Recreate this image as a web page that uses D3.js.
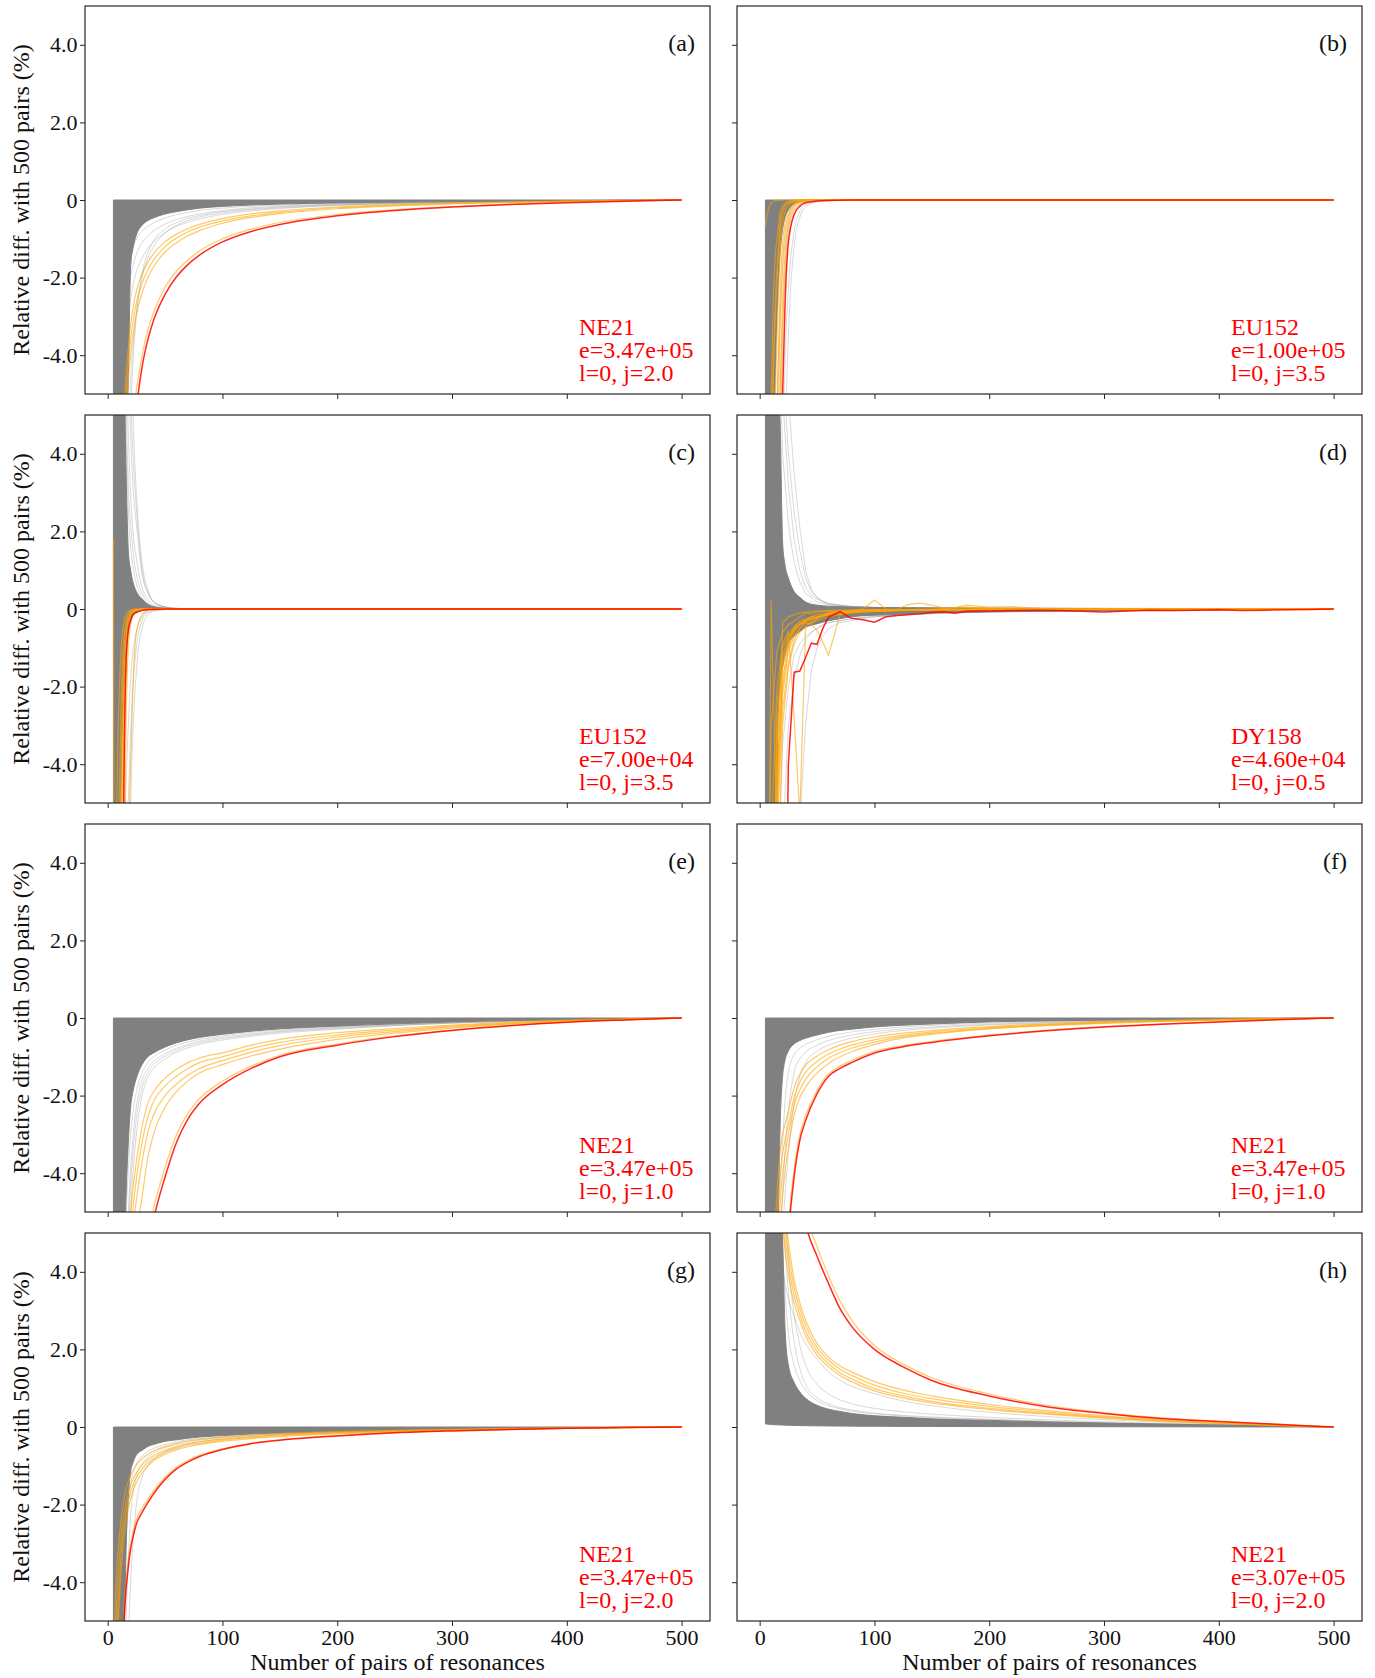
<!DOCTYPE html>
<html><head><meta charset="utf-8">
<script src="https://cdn.jsdelivr.net/npm/d3@7"></script>
<style>body{margin:0;background:#fff;}svg{display:block;}</style>
</head><body><svg id="chart" width="1375" height="1678"></svg>
<script>
// ---------------- DATA ----------------
// common x grid (number of pairs of resonances) for the smooth panels
const X = [5,6,8,10,12, 14,16,18,20,22, 25,30,35,40,50, 60,70,80,100,125, 150,200,250,300,350, 400,450,500];
const xTicks = [0,100,200,300,400,500];
const yTicks = [-4,-2,0,2,4];
const yTickLabels = ["-4.0","-2.0","0","2.0","4.0"];
const xAxisTitle = "Number of pairs of resonances";
const yAxisTitle = "Relative diff. with 500 pairs (%)";
const panelLetters = ["(a)","(b)","(c)","(d)","(e)","(f)","(g)","(h)"];

// ---- panel (a)
const aNote = ["NE21","e=3.47e+05","l=0, j=2.0"];
const aGrayHi = [0,0,0,0,0, 0,0,0,0,0, 0,0,0,0,0, 0,0,0,0,0, 0,0,0,0,0, 0,0,0];
const aGrayLo = [-40,-32,-22,-16,-11, -8.5,-6.5,-4.6,-1.7,-1.25, -0.9,-0.65,-0.53,-0.46,-0.36, -0.3,-0.25,-0.21,-0.165,-0.13, -0.105,-0.075,-0.055,-0.04,-0.028, -0.017,-0.008,0];
const aLight = [
 [-25,-18,-11,-8,-5.8, -4.5,-3.6,-3.0,-2.55,-2.2, -1.85,-1.5,-1.25,-1.08,-0.84, -0.68,-0.57,-0.49,-0.37,-0.28, -0.22,-0.14,-0.094,-0.063,-0.04, -0.024,-0.01,0],
 [-30,-20,-12,-8.5,-6, -4.3,-3.2,-2.5,-2.0,-1.7, -1.4,-1.1,-0.92,-0.8,-0.62, -0.5,-0.42,-0.36,-0.27,-0.2, -0.16,-0.105,-0.07,-0.047,-0.03, -0.018,-0.008,0],
 [-40,-28,-16,-10,-6.5, -4.2,-2.8,-2.0,-1.5,-1.25, -1.0,-0.8,-0.68,-0.59,-0.46, -0.38,-0.32,-0.27,-0.21,-0.16, -0.13,-0.088,-0.06,-0.04,-0.026, -0.016,-0.007,0],
 [-50,-40,-28,-20,-14, -10,-7.5,-5.8,-4.6,-3.8, -2.9,-2.0,-1.5,-1.2,-0.85, -0.65,-0.52,-0.44,-0.33,-0.25, -0.2,-0.13,-0.09,-0.06,-0.038, -0.022,-0.01,0],
 [-60,-45,-30,-22,-16, -12,-9,-7,-5.5,-4.2, -3.0,-1.9,-1.35,-1.05,-0.75, -0.58,-0.47,-0.4,-0.3,-0.23, -0.18,-0.12,-0.08,-0.054,-0.035, -0.02,-0.009,0]
];
const aOrange = [
 [-30,-26,-20,-16,-12.5, -10,-8.3,-7.0,-6.2,-5.6, -4.9,-4.0,-3.35,-2.9,-2.25, -1.83,-1.54,-1.31,-1.0,-0.75, -0.58,-0.375,-0.25,-0.167,-0.107, -0.063,-0.028,0],
 [-30,-22,-14,-10,-7.2, -5.6,-4.5,-3.8,-3.2,-2.8, -2.35,-1.9,-1.6,-1.38,-1.08, -0.88,-0.74,-0.63,-0.48,-0.36, -0.28,-0.18,-0.12,-0.08,-0.051, -0.03,-0.013,0],
 [-32,-24,-15,-11,-8, -6.2,-5.0,-4.2,-3.6,-3.15, -2.65,-2.15,-1.8,-1.55,-1.2, -0.98,-0.82,-0.7,-0.54,-0.41, -0.32,-0.2,-0.135,-0.09,-0.058, -0.034,-0.015,0],
 [-34,-26,-16,-12,-8.8, -6.8,-5.5,-4.6,-4.0,-3.5, -2.95,-2.4,-2.0,-1.72,-1.34, -1.1,-0.92,-0.79,-0.6,-0.45, -0.35,-0.225,-0.15,-0.1,-0.064, -0.037,-0.016,0]
];
const aRed = [-35,-30,-22,-17,-13.5, -11,-9.2,-8.0,-7.2,-6.4, -5.4,-4.3,-3.6,-3.1,-2.43, -1.98,-1.66,-1.42,-1.08,-0.81, -0.63,-0.405,-0.27,-0.18,-0.116, -0.068,-0.03,0];

// ---- panel (b)
const bNote = ["EU152","e=1.00e+05","l=0, j=3.5"];
const bGrayHi = [0,0,0,0,0, 0,0,0,0,0, 0,0,0,0,0, 0,0,0,0,0, 0,0,0,0,0, 0,0,0];
const bGrayLo = [-40,-34,-24,-14,-7, -4,-2.3,-1.3,-0.75,-0.45, -0.25,-0.1,-0.045,-0.02,-0.008, -0.004,-0.002,-0.001,0,0, 0,0,0,0,0, 0,0,0];
const bLight = [
 [-60,-55,-45,-36,-28, -21,-15,-10,-6.5,-4.2, -2.3,-0.8,-0.3,-0.12,-0.04, -0.015,-0.006,-0.003,-0.001,0, 0,0,0,0,0, 0,0,0],
 [-50,-45,-35,-26,-18, -12,-8,-5,-3.2,-2.0, -1.0,-0.35,-0.13,-0.05,-0.015, -0.005,-0.002,0,0,0, 0,0,0,0,0, 0,0,0],
 [-40,-35,-26,-18,-11, -7,-4.5,-3.0,-1.8,-1.1, -0.5,-0.15,-0.05,-0.02,-0.005, 0,0,0,0,0, 0,0,0,0,0, 0,0,0],
 [-70,-65,-55,-45,-36, -28,-21,-15,-10,-6.5, -3.5,-1.2,-0.45,-0.18,-0.05, -0.02,-0.008,-0.003,0,0, 0,0,0,0,0, 0,0,0]
];
const bOrange = [
 [-0.69,-0.45,-0.2,-0.08,-0.03, -0.015,-0.008,-0.004,-0.002,0, 0,0,0,0,0, 0,0,0,0,0, 0,0,0,0,0, 0,0,0],
 [-30,-22,-9,-5,-2.4, -1.3,-0.8,-0.3,-0.15,-0.08, -0.04,-0.01,0,0,0, 0,0,0,0,0, 0,0,0,0,0, 0,0,0],
 [-35,-28,-15,-8,-4.5, -2.8,-1.6,-0.7,-0.35,-0.18, -0.09,-0.03,-0.01,0,0, 0,0,0,0,0, 0,0,0,0,0, 0,0,0],
 [-40,-32,-20,-12,-7, -4.6,-2.8,-1.2,-0.6,-0.3, -0.15,-0.05,-0.02,-0.005,0, 0,0,0,0,0, 0,0,0,0,0, 0,0,0],
 [-45,-38,-25,-16,-10, -6.5,-4.2,-2.2,-1.1,-0.6, -0.3,-0.09,-0.03,-0.01,0, 0,0,0,0,0, 0,0,0,0,0, 0,0,0],
 [-50,-42,-30,-20,-13, -8.5,-5.5,-3,-1.6,-0.85, -0.4,-0.12,-0.04,-0.015,-0.003, 0,0,0,0,0, 0,0,0,0,0, 0,0,0],
 [-50,-45,-32,-24,-16, -11,-7.5,-4.5,-2.6,-1.4, -0.6,-0.18,-0.06,-0.02,-0.005, 0,0,0,0,0, 0,0,0,0,0, 0,0,0],
 [-40,-20,-10,-6.5,-4, -2.3,-1.4,-0.5,-0.25,-0.12, -0.06,-0.02,0,0,0, 0,0,0,0,0, 0,0,0,0,0, 0,0,0],
 [-55,-50,-40,-30,-22, -15,-10,-6,-3.5,-1.9, -0.75,-0.25,-0.1,-0.04,-0.012, -0.005,0,0,0,0, 0,0,0,0,0, 0,0,0]
];
const bRed = [-60,-55,-45,-35,-26, -19,-13,-8.5,-5.0,-2.8, -1.1,-0.38,-0.16,-0.07,-0.025, -0.01,-0.005,-0.002,0,0, 0,0,0,0,0, 0,0,0];

// ---- panel (c)
const cNote = ["EU152","e=7.00e+04","l=0, j=3.5"];
const cGrayHi = [40,32,22,15,10, 6.8,3.6,1.5,1.0,0.7, 0.45,0.25,0.12,0.06,0.02, 0.008,0.003,0,0,0, 0,0,0,0,0, 0,0,0];
const cGrayLo = [-40,-30,-15,-8,-4, -2.2,-1.0,-0.5,-0.28,-0.17, -0.09,-0.035,-0.015,-0.008,-0.003, 0,0,0,0,0, 0,0,0,0,0, 0,0,0];
const cLight = [
 [45,40,32,25,18, 14,10,6.5,4.5,3.2, 2.2,0.9,0.4,0.18,0.05, 0.015,0.005,0,0,0, 0,0,0,0,0, 0,0,0],
 [40,35,26,20,14, 10.5,7,4.5,3.0,2.0, 1.3,0.55,0.25,0.1,0.03, 0.01,0,0,0,0, 0,0,0,0,0, 0,0,0],
 [35,30,22,18,12, 9,5.5,3.2,2.2,1.5, 0.9,0.4,0.18,0.07,0.02, 0,0,0,0,0, 0,0,0,0,0, 0,0,0],
 [50,45,38,30,24, 19,14,10,7,5, 3.0,1.2,0.5,0.2,0.06, 0.02,0.005,0,0,0, 0,0,0,0,0, 0,0,0],
 [30,26,20,15,10, 7.5,4.5,2.5,1.6,1.1, 0.65,0.3,0.13,0.05,0.015, 0,0,0,0,0, 0,0,0,0,0, 0,0,0],
 [48,44,36,28,21, 16,12,8,5.5,4, 2.6,1.0,0.45,0.18,0.05, 0.015,0,0,0,0, 0,0,0,0,0, 0,0,0],
 [-30,-25,-20,-15,-10, -7,-4.5,-3,-1.8,-1.1, -0.6,-0.2,-0.07,-0.03,-0.01, 0,0,0,0,0, 0,0,0,0,0, 0,0,0],
 [-40,-35,-28,-20,-14, -10,-7,-5,-3.2,-2.0, -1.0,-0.3,-0.1,-0.04,-0.01, 0,0,0,0,0, 0,0,0,0,0, 0,0,0],
 [-50,-45,-38,-30,-22, -16,-11,-7.5,-5.0,-3.2, -1.6,-0.5,-0.16,-0.06,-0.015, 0,0,0,0,0, 0,0,0,0,0, 0,0,0]
];
const cOrange = [
 [1.82,-15,-10,-5,-2, -0.8,-0.3,-0.12,-0.06,-0.03, -0.01,0,0,0,0, 0,0,0,0,0, 0,0,0,0,0, 0,0,0],
 [-40,-30,-15,-8,-3.5, -1.2,-0.45,-0.18,-0.08,-0.04, -0.015,-0.005,0,0,0, 0,0,0,0,0, 0,0,0,0,0, 0,0,0],
 [-50,-40,-25,-14,-6.5, -2.2,-0.8,-0.3,-0.12,-0.06, -0.02,-0.006,0,0,0, 0,0,0,0,0, 0,0,0,0,0, 0,0,0],
 [-60,-50,-35,-22,-12, -5,-1.7,-0.6,-0.25,-0.1, -0.04,-0.01,0,0,0, 0,0,0,0,0, 0,0,0,0,0, 0,0,0],
 [-60,-58,-50,-40,-28, -18,-11,-6.5,-4,-2, -0.6,-0.15,-0.04,-0.01,0, 0,0,0,0,0, 0,0,0,0,0, 0,0,0],
 [-45,-35,-20,-11,-5, -1.8,-0.7,-0.25,-0.1,-0.05, -0.02,0,0,0,0, 0,0,0,0,0, 0,0,0,0,0, 0,0,0],
 [-55,-45,-30,-18,-9, -3.5,-1.2,-0.45,-0.18,-0.08, -0.03,-0.01,0,0,0, 0,0,0,0,0, 0,0,0,0,0, 0,0,0],
 [-20,-12,-5,-2.2,-0.9, -0.35,-0.15,-0.06,-0.03,-0.01, 0,0,0,0,0, 0,0,0,0,0, 0,0,0,0,0, 0,0,0],
 [-58,-52,-42,-30,-18, -8,-3,-1.0,-0.4,-0.18, -0.07,-0.02,0,0,0, 0,0,0,0,0, 0,0,0,0,0, 0,0,0]
];
const cRed = [-80,-75,-55,-32,-14, -5.0,-1.4,-0.55,-0.3,-0.15, -0.09,-0.035,-0.015,-0.007,-0.003, 0,0,0,0,0, 0,0,0,0,0, 0,0,0];

// ---- panel (d): jagged curves, given as [pairs, value] points
const dNote = ["DY158","e=4.60e+04","l=0, j=0.5"];
const dEnvX = [5,10,14,15,16, 18,20,22,25,30, 35,40,45,50,60, 70,80,100,110,130, 150,200,250,300,350, 400,450,500];
const dGrayHi = [40,20,11,8,6.5, 4.6,1.7,1.15,0.8,0.45, 0.3,0.18,0.12,0.1,0.07, 0.06,0.05,0.04,0.036,0.03, 0.027,0.018,0.015,0.012,0.009, 0.007,0.004,0];
const dGrayLo = [-40,-20,-7,-5,-2.8, -1.9,-1.5,-1.2,-0.9,-0.7, -0.58,-0.47,-0.42,-0.38,-0.3, -0.25,-0.2,-0.16,-0.15,-0.12, -0.1,-0.075,-0.058,-0.045,-0.034, -0.024,-0.012,0];
const dLight = [
 [[5,40],[10,25],[15,14],[20,8.5],[25,5.5],[30,3.5],[35,2.1],[40,1.0],[45,0.5],[50,0.3],[55,0.2],[60,0.15],[70,0.1],[80,0.07],[100,0.04],[150,0.02],[200,0.01],[500,0]],
 [[5,35],[10,20],[15,10],[20,5.5],[25,3.2],[30,1.8],[35,1.0],[40,0.55],[45,0.35],[50,0.25],[60,0.12],[80,0.06],[100,0.04],[150,0.02],[500,0]],
 [[5,30],[10,18],[15,9],[20,4],[25,2.2],[30,1.2],[35,0.7],[40,0.4],[50,0.18],[60,0.1],[80,0.05],[100,0.03],[500,0]],
 [[5,38],[10,22],[15,12],[20,6.5],[25,4],[30,2.5],[35,1.5],[40,0.8],[45,0.45],[50,0.28],[60,0.13],[80,0.06],[100,0.04],[500,0]],
 [[5,-40],[10,-25],[15,-12],[20,-6],[25,-3],[30,-1.8],[35,-1.2],[40,-0.8],[45,-0.6],[50,-0.5],[55,-0.4],[60,-0.35],[70,-0.3],[80,-0.25],[100,-0.18],[150,-0.1],[200,-0.06],[300,-0.03],[500,0]],
 [[5,-50],[10,-35],[20,-15],[30,-7],[35,-5.5],[40,-3],[45,-1.6],[50,-1.0],[55,-0.7],[60,-0.5],[70,-0.35],[80,-0.3],[100,-0.2],[150,-0.12],[200,-0.07],[300,-0.03],[500,0]],
 [[5,30],[10,10],[15,3],[20,1],[25,0.4],[30,0.2],[40,0.1],[45,0.2],[50,0.05],[60,0.02],[100,0.01],[500,0]],
 [[5,-35],[10,-20],[15,-8],[20,-3.5],[25,-2],[30,-1.2],[35,-0.9],[40,-0.7],[50,-0.5],[60,-0.35],[80,-0.25],[100,-0.2],[150,-0.12],[200,-0.08],[300,-0.04],[500,0]]
];
const dOrange = [
 [[5,-20],[10,0.25],[15,-6],[20,-1.3],[25,-0.8],[30,-0.55],[35,-0.4],[40,-0.3],[50,-0.2],[60,-0.15],[70,-0.12],[80,-0.1],[100,-0.06],[120,-0.04],[150,-0.03],[200,-0.02],[300,-0.01],[500,0]],
 [[5,-30],[10,-12],[15,-2.5],[20,-1.0],[25,-0.65],[30,-0.45],[35,-0.35],[40,-0.28],[45,-0.2],[50,-0.22],[60,-0.12],[70,-0.08],[80,-0.07],[90,-0.05],[100,-0.06],[120,-0.03],[150,-0.02],[200,-0.01],[500,0]],
 [[5,-35],[10,-15],[15,-4],[20,-1.8],[25,-0.9],[30,-0.5],[35,-0.4],[40,-0.3],[45,-0.2],[50,-0.25],[55,-0.15],[60,-0.1],[70,-0.05],[80,-0.08],[90,-0.05],[100,-0.03],[110,-0.04],[130,-0.02],[160,-0.01],[500,0]],
 [[5,-40],[10,-20],[15,-6],[20,-2.6],[25,-1.4],[30,-0.8],[35,-0.5],[40,-0.35],[45,-0.38],[50,-0.25],[55,-0.2],[60,-0.12],[70,-0.1],[80,-0.06],[90,-0.04],[100,-0.03],[120,-0.03],[150,-0.015],[200,-0.01],[500,0]],
 [[5,-25],[10,-10],[15,-3],[20,-1.2],[25,-0.7],[30,-0.5],[35,-0.4],[40,-0.35],[45,-0.4],[50,-0.55],[55,-0.85],[60,-1.19],[70,-0.15],[80,-0.06],[90,-0.03],[100,-0.02],[150,-0.01],[500,0]],
 [[5,-28],[10,-11],[15,-3.5],[20,-1.5],[25,-0.8],[30,-0.5],[35,-0.3],[40,-0.25],[50,-0.15],[60,-0.1],[70,-0.08],[80,-0.04],[90,0.0],[100,0.23],[110,0.0],[120,-0.02],[140,-0.02],[160,-0.01],[200,-0.01],[500,0]],
 [[5,-32],[10,-14],[15,-4.5],[20,-2],[25,-1],[30,-0.6],[35,-0.4],[40,-0.3],[50,-0.2],[60,-0.12],[70,-0.08],[80,-0.05],[100,-0.03],[110,-0.02],[120,0.0],[130,0.12],[140,0.15],[150,0.1],[160,0.03],[180,0.05],[200,0.01],[250,0.0],[500,0]],
 [[5,-20],[10,-6],[15,-2],[20,-0.9],[25,-0.57],[30,-2.8],[35,-5.3],[40,-0.45],[45,-0.3],[50,-0.2],[60,-0.12],[70,-0.08],[80,-0.06],[100,-0.04],[150,-0.02],[200,-0.01],[500,0]],
 [[5,-50],[10,-25],[15,-8],[20,-3],[25,-1.5],[30,-0.9],[35,-0.6],[40,-0.45],[45,-0.35],[50,-0.3],[55,-0.25],[60,-0.2],[70,-0.14],[80,-0.1],[90,-0.08],[100,-0.06],[120,-0.04],[150,-0.03],[200,-0.02],[300,-0.01],[500,0]],
 [[5,-45],[10,-30],[15,-5],[20,-0.35],[25,-0.2],[30,-0.15],[35,-0.1],[40,-0.08],[50,-0.05],[70,-0.03],[100,-0.02],[200,-0.01],[500,0]],
 [[5,-15],[10,-3],[15,-1.1],[20,-0.6],[25,-0.4],[30,-0.3],[35,-0.2],[40,-0.1],[45,-0.12],[50,-0.08],[60,-0.05],[70,-0.06],[80,-0.03],[100,-0.02],[150,-0.01],[500,0]],
 [[5,-38],[10,-18],[15,-5],[20,-2.2],[25,-1.1],[30,-0.7],[35,-0.5],[40,-0.32],[50,-0.22],[60,-0.15],[70,-0.1],[80,-0.06],[100,-0.03],[150,-0.01],[170,0.03],[180,0.1],[200,0.05],[220,0.06],[240,0.02],[260,0.0],[500,0]]
];
const dRed = [[5,-60],[10,-40],[15,-25],[20,-15],[25,-4.0],[30,-1.63],[35,-1.6],[40,-1.25],[45,-0.88],[50,-0.91],[55,-0.5],[60,-0.21],[70,-0.07],[80,-0.24],[90,-0.28],[100,-0.34],[110,-0.2],[120,-0.17],[130,-0.14],[140,-0.12],[150,-0.09],[160,-0.07],[170,-0.11],[180,-0.06],[200,-0.05],[220,-0.04],[240,-0.035],[260,-0.04],[280,-0.06],[300,-0.08],[320,-0.05],[340,-0.03],[360,-0.04],[380,-0.03],[400,-0.02],[420,-0.04],[440,-0.03],[460,-0.02],[480,-0.01],[500,0]];

// ---- panel (e)
const eNote = ["NE21","e=3.47e+05","l=0, j=1.0"];
const eGrayHi = [0,0,0,0,0, 0,0,0,0,0, 0,0,0,0,0, 0,0,0,0,0, 0,0,0,0,0, 0,0,0];
const eGrayLo = [-40,-30,-18,-12,-9, -6.5,-4.6,-3.2,-2.3,-1.9, -1.55,-1.2,-1.0,-0.9,-0.75, -0.64,-0.56,-0.5,-0.42,-0.34, -0.28,-0.21,-0.15,-0.1,-0.065, -0.04,-0.018,0];
const eLight = [
 [-40,-32,-22,-15,-11, -8.5,-6.5,-5,-3.9,-3.1, -2.3,-1.6,-1.3,-1.12,-0.92, -0.78,-0.68,-0.6,-0.5,-0.41, -0.34,-0.25,-0.18,-0.12,-0.078, -0.046,-0.02,0],
 [-45,-36,-26,-18,-13, -10,-8,-6.3,-5,-4, -3,-2.0,-1.55,-1.3,-1.05, -0.88,-0.77,-0.68,-0.57,-0.47, -0.39,-0.29,-0.2,-0.135,-0.088, -0.052,-0.023,0],
 [-42,-34,-24,-16,-12, -9,-7,-5.5,-4.3,-3.5, -2.6,-1.8,-1.42,-1.2,-0.98, -0.83,-0.72,-0.64,-0.53,-0.44, -0.36,-0.27,-0.19,-0.128,-0.083, -0.049,-0.021,0],
 [-40,-30,-20,-13,-9.5, -7,-5.2,-3.9,-3.0,-2.45, -1.9,-1.4,-1.15,-1.0,-0.83, -0.7,-0.62,-0.55,-0.46,-0.37, -0.31,-0.23,-0.165,-0.11,-0.07, -0.043,-0.019,0]
];
const eOrange = [
 [-55,-50,-37,-28,-21, -16,-13,-11,-9.8,-8.8, -7.7,-6.5,-5.6,-4.9,-3.85, -3.0,-2.45,-2.08,-1.63,-1.24, -0.96,-0.67,-0.46,-0.31,-0.19, -0.105,-0.048,0],
 [-30,-24,-15,-11,-9, -7.5,-6.4,-5.6,-5.0,-4.4, -3.7,-2.8,-2.2,-1.9,-1.55, -1.32,-1.15,-1.03,-0.9,-0.7, -0.55,-0.38,-0.27,-0.18,-0.11, -0.06,-0.027,0],
 [-33,-27,-17,-12.5,-10, -8.3,-7.1,-6.2,-5.5,-4.9, -4.15,-3.2,-2.55,-2.15,-1.75, -1.5,-1.3,-1.15,-1.0,-0.79, -0.63,-0.44,-0.31,-0.205,-0.128, -0.07,-0.031,0],
 [-36,-30,-20,-14,-11, -9.2,-7.9,-6.9,-6.1,-5.4, -4.7,-3.7,-2.95,-2.5,-2.0, -1.7,-1.47,-1.3,-1.1,-0.88, -0.71,-0.49,-0.35,-0.23,-0.145, -0.08,-0.035,0],
 [-40,-33,-25,-18,-14, -11,-9,-7.6,-6.8,-6.1, -5.5,-4.6,-3.6,-3.0,-2.3, -1.9,-1.62,-1.42,-1.2,-0.98, -0.8,-0.55,-0.39,-0.26,-0.16, -0.09,-0.04,0]
];
const eRed = [-60,-55,-40,-30,-22, -17,-14,-12,-10.5,-9.5, -8.3,-7,-6.0,-5.2,-4.1, -3.2,-2.6,-2.2,-1.72,-1.3, -1.0,-0.7,-0.48,-0.32,-0.2, -0.11,-0.05,0];

// ---- panel (f)
const fNote = ["NE21","e=3.47e+05","l=0, j=1.0"];
const fGrayHi = [0,0,0,0,0, 0,0,0,0,0, 0,0,0,0,0, 0,0,0,0,0, 0,0,0,0,0, 0,0,0];
const fGrayLo = [-40,-30,-18,-12,-8.5, -6.5,-5.2,-2.6,-1.5,-1.1, -0.85,-0.67,-0.58,-0.52,-0.44, -0.37,-0.32,-0.29,-0.23,-0.185, -0.155,-0.1,-0.075,-0.055,-0.038, -0.024,-0.011,0];
const fLight = [
 [-40,-30,-18,-12,-8.5, -6.5,-5.2,-4.2,-3.2,-2.2, -1.4,-0.95,-0.78,-0.68,-0.56, -0.47,-0.41,-0.36,-0.29,-0.23, -0.19,-0.13,-0.095,-0.068,-0.046, -0.028,-0.013,0],
 [-45,-35,-22,-15,-11, -8.5,-6.8,-5.5,-4.5,-3.5, -2.4,-1.4,-1.05,-0.88,-0.7, -0.58,-0.5,-0.44,-0.35,-0.28, -0.23,-0.16,-0.115,-0.08,-0.054, -0.033,-0.015,0],
 [-50,-40,-26,-18,-13, -10,-8,-6.6,-5.5,-4.6, -3.5,-2.2,-1.5,-1.15,-0.85, -0.7,-0.6,-0.52,-0.41,-0.32, -0.26,-0.18,-0.13,-0.09,-0.06, -0.036,-0.016,0]
];
const fOrange = [
 [-55,-46,-33,-26,-19.5, -15,-11.7,-9.4,-7.8,-6.6, -5.3,-3.9,-3.0,-2.52,-1.86, -1.44,-1.24,-1.1,-0.86,-0.71, -0.6,-0.44,-0.315,-0.22,-0.152, -0.095,-0.043,0],
 [-35,-26,-15,-9.5,-6.8, -5.1,-4.1,-3.4,-3.0,-2.75, -2.4,-1.8,-1.45,-1.22,-0.98, -0.82,-0.7,-0.61,-0.49,-0.39, -0.32,-0.22,-0.15,-0.1,-0.065, -0.038,-0.017,0],
 [-38,-29,-17,-11,-7.8, -5.9,-4.8,-4.0,-3.5,-3.15, -2.75,-2.05,-1.65,-1.4,-1.12, -0.93,-0.8,-0.7,-0.56,-0.44, -0.36,-0.245,-0.17,-0.115,-0.075, -0.044,-0.02,0],
 [-42,-32,-19,-12.5,-8.9, -6.8,-5.6,-4.7,-4.0,-3.55, -3.0,-2.25,-1.85,-1.58,-1.26, -1.04,-0.89,-0.78,-0.62,-0.48, -0.39,-0.265,-0.185,-0.125,-0.082, -0.048,-0.022,0],
 [-45,-35,-21,-14,-10, -7.8,-6.4,-5.4,-4.6,-4.0, -3.35,-2.5,-2.05,-1.78,-1.42, -1.17,-1.0,-0.87,-0.68,-0.51, -0.42,-0.28,-0.2,-0.14,-0.09, -0.053,-0.024,0]
];
const fRed = [-60,-50,-36,-28,-21, -16,-12.5,-10,-8.3,-7, -5.6,-4.1,-3.15,-2.65,-1.95, -1.5,-1.3,-1.15,-0.9,-0.74, -0.63,-0.46,-0.33,-0.23,-0.16, -0.1,-0.045,0];

// ---- panel (g)
const gNote = ["NE21","e=3.47e+05","l=0, j=2.0"];
const gGrayHi = [0,0,0,0,0, 0,0,0,0,0, 0,0,0,0,0, 0,0,0,0,0, 0,0,0,0,0, 0,0,0];
const gGrayLo = [-40,-30,-18,-12,-9, -6.2,-3.2,-1.8,-1.15,-0.92, -0.72,-0.6,-0.5,-0.45,-0.37, -0.33,-0.29,-0.26,-0.22,-0.18, -0.155,-0.115,-0.085,-0.062,-0.043, -0.027,-0.012,0];
const gLight = [
 [-40,-30,-18,-12,-8, -5,-3,-2,-1.5,-1.2, -0.95,-0.75,-0.63,-0.55,-0.45, -0.38,-0.33,-0.3,-0.25,-0.2, -0.17,-0.125,-0.09,-0.065,-0.045, -0.028,-0.013,0],
 [-45,-35,-22,-15,-10, -7,-5,-3.4,-2.3,-1.7, -1.25,-0.95,-0.78,-0.67,-0.53, -0.45,-0.39,-0.34,-0.28,-0.22, -0.185,-0.135,-0.097,-0.07,-0.048, -0.03,-0.014,0],
 [-50,-40,-28,-20,-14, -10,-7.5,-5.5,-4,-3, -2,-1.3,-1.0,-0.82,-0.63, -0.52,-0.44,-0.38,-0.31,-0.25, -0.2,-0.145,-0.105,-0.075,-0.05, -0.031,-0.014,0]
];
const gOrange = [
 [-28,-22,-14,-8.5,-6.1, -4.8,-4.0,-3.4,-3.0,-2.7, -2.38,-2.1,-1.86,-1.64,-1.29, -1.03,-0.86,-0.73,-0.56,-0.415, -0.33,-0.222,-0.145,-0.097,-0.06, -0.034,-0.015,0],
 [-7,-5.2,-3.6,-2.9,-2.3, -1.9,-1.6,-1.4,-1.25,-1.12, -0.98,-0.82,-0.7,-0.62,-0.5, -0.42,-0.36,-0.32,-0.26,-0.21, -0.17,-0.12,-0.085,-0.058,-0.038, -0.022,-0.01,0],
 [-8.5,-6.5,-4.4,-3.5,-2.75, -2.3,-1.95,-1.7,-1.5,-1.35, -1.18,-0.98,-0.84,-0.74,-0.6, -0.5,-0.43,-0.38,-0.31,-0.25, -0.205,-0.145,-0.1,-0.07,-0.046, -0.027,-0.012,0],
 [-10,-7.7,-5.2,-4.1,-3.2, -2.6,-2.2,-1.9,-1.68,-1.5, -1.31,-1.08,-0.92,-0.81,-0.65, -0.55,-0.47,-0.42,-0.34,-0.275, -0.225,-0.16,-0.115,-0.08,-0.052, -0.03,-0.014,0],
 [-12,-9,-6,-4.6,-3.6, -2.9,-2.45,-2.1,-1.85,-1.65, -1.43,-1.18,-1.0,-0.87,-0.7, -0.59,-0.51,-0.45,-0.37,-0.3, -0.25,-0.18,-0.13,-0.09,-0.06, -0.035,-0.016,0]
];
const gRed = [-30,-24,-15,-9,-6.5, -5.1,-4.2,-3.6,-3.15,-2.85, -2.5,-2.2,-1.95,-1.72,-1.35, -1.08,-0.9,-0.76,-0.58,-0.43, -0.34,-0.23,-0.15,-0.1,-0.062, -0.035,-0.015,0];

// ---- panel (h)
const hNote = ["NE21","e=3.07e+05","l=0, j=2.0"];
const hGrayHi = [40,30,20,14,10.5, 8.2,6.8,5.8,4.8,2.6, 1.6,1.15,0.9,0.74,0.56, 0.46,0.4,0.35,0.29,0.25, 0.21,0.17,0.13,0.1,0.075, 0.05,0.025,0];
const hGrayLo = [0.08,0.075,0.07,0.065,0.06, 0.058,0.055,0.052,0.05,0.048, 0.045,0.04,0.037,0.034,0.03, 0.027,0.024,0.022,0.019,0.016, 0.014,0.011,0.009,0.007,0.005, 0.003,0.0015,0];
const hLight = [
 [25,20,13,9.5,7.5, 6.2,5.3,4.6,4.1,3.7, 3.3,2.85,2.45,2.15,1.75, 1.42,1.2,1.05,0.86,0.67, 0.55,0.38,0.27,0.19,0.125, 0.075,0.033,0],
 [40,30,22,16,12, 9.5,7.8,6.5,5.5,4.6, 3.5,2.2,1.5,1.1,0.75, 0.6,0.5,0.44,0.36,0.3, 0.26,0.2,0.15,0.11,0.08, 0.053,0.026,0],
 [35,27,20,15,11, 8.6,7,5.8,4.6,3.5, 2.4,1.6,1.2,0.95,0.68, 0.55,0.47,0.41,0.34,0.28, 0.24,0.19,0.14,0.105,0.078, 0.052,0.026,0],
 [45,35,26,19,15, 12,10,8.3,7,5.8, 4.3,2.9,2.1,1.6,1.1, 0.85,0.7,0.6,0.48,0.39, 0.33,0.25,0.185,0.135,0.095, 0.062,0.03,0]
];
const hOrange = [
 [65,55,40,31,25, 20,17,14.5,12.8,11.5, 10,8.3,6.6,5.6,4.65, 3.9,3.25,2.76,2.1,1.62, 1.27,0.85,0.56,0.37,0.235, 0.145,0.072,0],
 [25,20,14,11,9, 7.6,6.6,5.8,5.15,4.6, 3.9,3.2,2.75,2.35,1.85, 1.55,1.33,1.17,0.93,0.75, 0.62,0.45,0.33,0.23,0.15, 0.09,0.04,0],
 [26,21,15,11.8,9.7, 8.2,7.1,6.2,5.5,4.95, 4.2,3.4,2.9,2.48,1.95, 1.63,1.4,1.24,0.99,0.8, 0.66,0.48,0.35,0.245,0.16, 0.096,0.043,0],
 [28,23,16.5,13,10.6, 9,7.7,6.7,5.9,5.3, 4.5,3.6,3.05,2.62,2.05, 1.72,1.49,1.33,1.08,0.87, 0.73,0.53,0.385,0.265,0.175, 0.103,0.046,0],
 [30,25,18,14,11.5, 9.6,8.3,7.2,6.3,5.6, 4.8,3.8,3.2,2.75,2.15, 1.8,1.57,1.42,1.17,0.95, 0.8,0.58,0.42,0.29,0.19, 0.11,0.05,0]
];
const hRed = [60,50,36,28,22, 18,15,13,11.5,10.3, 9,7.5,6.1,5.25,4.4, 3.7,3.05,2.6,2.0,1.55, 1.2,0.8,0.52,0.35,0.22, 0.14,0.07,0];

// ---------------- LAYOUT ----------------
const FONT = '"Liberation Serif","Times New Roman",serif';
const colLeft = [85, 737];
const rowTop = [6, 415, 824, 1233];
const W = 625, H = 388;

const panels = [
  {letter:panelLetters[0], col:0,row:0, envX:X, hi:aGrayHi, lo:aGrayLo, light:aLight, orange:aOrange, red:aRed, note:aNote},
  {letter:panelLetters[1], col:1,row:0, envX:X, hi:bGrayHi, lo:bGrayLo, light:bLight, orange:bOrange, red:bRed, note:bNote},
  {letter:panelLetters[2], col:0,row:1, envX:X, hi:cGrayHi, lo:cGrayLo, light:cLight, orange:cOrange, red:cRed, note:cNote},
  {letter:panelLetters[3], col:1,row:1, envX:dEnvX, hi:dGrayHi, lo:dGrayLo, light:dLight, orange:dOrange, red:dRed, note:dNote, pairs:true},
  {letter:panelLetters[4], col:0,row:2, envX:X, hi:eGrayHi, lo:eGrayLo, light:eLight, orange:eOrange, red:eRed, note:eNote},
  {letter:panelLetters[5], col:1,row:2, envX:X, hi:fGrayHi, lo:fGrayLo, light:fLight, orange:fOrange, red:fRed, note:fNote},
  {letter:panelLetters[6], col:0,row:3, envX:X, hi:gGrayHi, lo:gGrayLo, light:gLight, orange:gOrange, red:gRed, note:gNote},
  {letter:panelLetters[7], col:1,row:3, envX:X, hi:hGrayHi, lo:hGrayLo, light:hLight, orange:hOrange, red:hRed, note:hNote}
];

function toPoints(p, s, name) {
  if (p.pairs) return s;
  if (s.length !== X.length) throw new Error('length mismatch in ' + name + ' ' + p.letter + ': ' + s.length);
  return X.map((x, k) => [x, s[k]]);
}

const svg = d3.select('#chart');
const defs = svg.append('defs');

panels.forEach((p, i) => {
  const left = colLeft[p.col], top = rowTop[p.row];
  const x = d3.scaleLinear().domain([-19.75, 524.75]).range([left, left + W]);
  const y = d3.scaleLinear().domain([-5, 5]).range([top + H, top]);
  const clipId = 'clip' + i;
  defs.append('clipPath').attr('id', clipId).append('rect')
    .attr('x', left).attr('y', top).attr('width', W).attr('height', H);
  const g = svg.append('g').attr('clip-path', `url(#${clipId})`);

  // dense grey bundle
  if (p.envX.length !== p.hi.length || p.envX.length !== p.lo.length) throw new Error('env mismatch ' + p.letter);
  const env = p.envX.map((v, k) => [v, p.lo[k], p.hi[k]]);
  const area = d3.area().x(d => x(d[0])).y0(d => y(d[1])).y1(d => y(d[2])).curve(d3.curveMonotoneX);
  g.append('path').attr('d', area(env)).attr('fill', '#808080')
    .attr('stroke', '#808080').attr('stroke-width', 1).attr('stroke-linejoin', 'round');

  const line = d3.line().x(d => x(d[0])).y(d => y(d[1]))
    .curve(p.pairs ? d3.curveLinear : d3.curveMonotoneX);

  p.light.forEach((s, k) => {
    g.append('path').attr('d', line(toPoints(p, s, 'light' + k))).attr('fill', 'none')
      .attr('stroke', '#808080').attr('stroke-opacity', 0.3).attr('stroke-width', 1);
  });
  p.orange.forEach((s, k) => {
    g.append('path').attr('d', line(toPoints(p, s, 'orange' + k))).attr('fill', 'none')
      .attr('stroke', '#FFA500').attr('stroke-opacity', 0.6).attr('stroke-width', 1.2);
  });
  g.append('path').attr('d', line(toPoints(p, p.red, 'red'))).attr('fill', 'none')
    .attr('stroke', '#FF0000').attr('stroke-opacity', 0.85).attr('stroke-width', 1.5);

  // axes
  const xAxis = d3.axisBottom(x).tickValues(xTicks).tickSize(5).tickPadding(3.5)
    .tickFormat(p.row === 3 ? d3.format('d') : () => '');
  const gx = svg.append('g').attr('transform', `translate(0,${top + H})`).call(xAxis);
  gx.select('.domain').remove();
  gx.selectAll('line').attr('stroke', '#262626').attr('stroke-width', 1);
  gx.selectAll('text').attr('font-family', FONT).attr('font-size', 22).attr('fill', '#111');

  const yAxis = d3.axisLeft(y).tickValues(yTicks).tickSize(5).tickPadding(2.5)
    .tickFormat((v, k) => p.col === 0 ? yTickLabels[k] : '');
  const gy = svg.append('g').attr('transform', `translate(${left},0)`).call(yAxis);
  gy.select('.domain').remove();
  gy.selectAll('line').attr('stroke', '#262626').attr('stroke-width', 1);
  gy.selectAll('text').attr('font-family', FONT).attr('font-size', 22).attr('fill', '#111');

  // frame
  svg.append('rect').attr('x', left).attr('y', top).attr('width', W).attr('height', H)
    .attr('fill', 'none').attr('stroke', '#262626').attr('stroke-width', 1.2);

  // panel letter
  svg.append('text').attr('x', left + W - 15).attr('y', top + 45).attr('text-anchor', 'end')
    .attr('font-family', FONT).attr('font-size', 24).attr('fill', '#111').text(p.letter);

  // red annotation: one text block with three lines
  const note = svg.append('text').attr('x', left + W - 131).attr('y', top + 329)
    .attr('font-family', FONT).attr('font-size', 24).attr('fill', '#FF0000');
  p.note.forEach((t, k) => {
    note.append('tspan').attr('x', left + W - 131).attr('dy', k === 0 ? 0 : 23).text(t);
  });

  if (p.col === 0) {
    svg.append('text').attr('transform', `translate(29,${top + H / 2}) rotate(-90)`)
      .attr('text-anchor', 'middle').attr('font-family', FONT).attr('font-size', 24)
      .attr('fill', '#111').text(yAxisTitle);
  }
  if (p.row === 3) {
    svg.append('text').attr('x', left + W / 2).attr('y', 1670).attr('text-anchor', 'middle')
      .attr('font-family', FONT).attr('font-size', 24).attr('fill', '#111').text(xAxisTitle);
  }
});
</script>
</body></html>
